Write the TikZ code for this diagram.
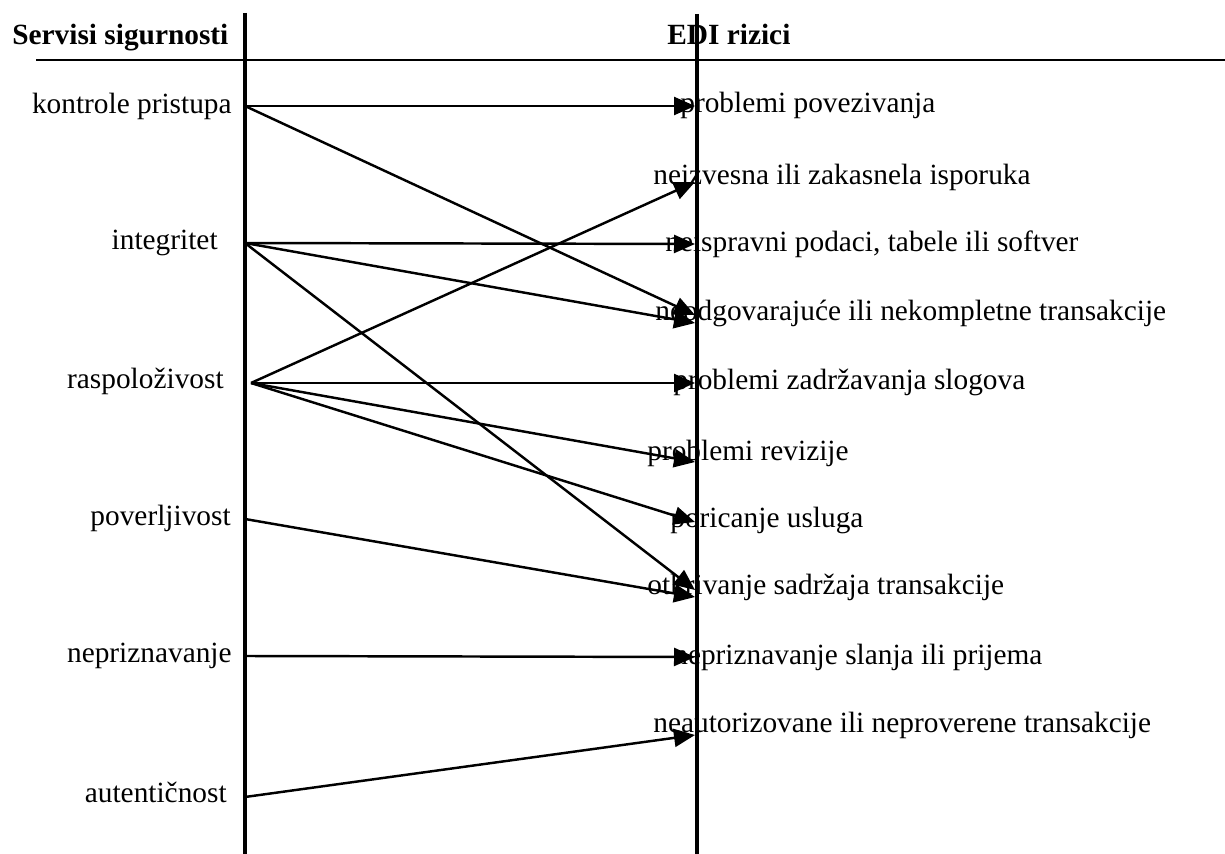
\documentclass[tikz,border=0pt]{standalone}
\usepackage{fontspec}
\setmainfont{Liberation Serif}
\usetikzlibrary{arrows.meta}
\begin{document}
\begin{tikzpicture}[x=0.02cm,y=-0.02cm,
  lbl/.style={inner sep=0pt, font=\fontsize{16.7}{20}\selectfont},
  hdr/.style={inner sep=0pt, font=\fontsize{16.7}{20}\selectfont\bfseries},
  rule/.style={line width=2.2pt},
  thinrule/.style={line width=1.5pt},
  link/.style={line width=1.4pt, -{Triangle[length=0.42cm,width=0.36cm]}}]
\useasboundingbox (0,0) rectangle (1225,854);

% column rules
\coordinate (lt) at (245,13);  \coordinate (lb) at (245,854);
\coordinate (rt) at (697,14);  \coordinate (rb) at (697,854);
\coordinate (hl) at (36,60);   \coordinate (hr) at (1225,60);
\draw[rule] (lt) -- (lb);
\draw[rule] (rt) -- (rb);
\draw[thinrule] (hl) -- (hr);

% headers
\node[hdr, anchor=base west] (h1) at (12,45) {Servisi sigurnosti};
\node[hdr, anchor=base west] (h2) at (667,45) {EDI rizici};

% security services
\node[lbl, anchor=base east] (s1) at (232,114) {kontrole pristupa};
\node[lbl, anchor=base east] (s2) at (218,250) {integritet};
\node[lbl, anchor=base east] (s3) at (224,389) {raspoloživost};
\node[lbl, anchor=base east] (s4) at (231,526) {poverljivost};
\node[lbl, anchor=base east] (s5) at (232,663) {nepriznavanje};
\node[lbl, anchor=base east] (s6) at (227,803) {autentičnost};

% EDI risks
\node[lbl, anchor=base west] (r1) at (680,113) {problemi povezivanja};
\node[lbl, anchor=base west] (r2) at (653,185) {neizvesna ili zakasnela isporuka};
\node[lbl, anchor=base west] (r3) at (665,252) {neispravni podaci, tabele ili softver};
\node[lbl, anchor=base west] (r4) at (655,321) {neodgovarajuće ili nekompletne transakcije};
\node[lbl, anchor=base west] (r5) at (673,390) {problemi zadržavanja slogova};
\node[lbl, anchor=base west] (r6) at (647,461) {problemi revizije};
\node[lbl, anchor=base west] (r7) at (670,528) {poricanje usluga};
\node[lbl, anchor=base west] (r8) at (647,595) {otkrivanje sadržaja transakcije};
\node[lbl, anchor=base west] (r9) at (673,665) {nepriznavanje slanja ili prijema};
\node[lbl, anchor=base west] (r10) at (653,733) {neautorizovane ili neproverene transakcije};

% connector ends on the left rule
\coordinate (a1) at (245,106);
\coordinate (a2) at (245,243);
\coordinate (a3) at (251,383);
\coordinate (a4) at (245,519);
\coordinate (a5) at (245,656);
\coordinate (a6) at (245,797);

% connector ends on the right rule
\coordinate (b1)  at (695,106);
\coordinate (b2)  at (695,182);
\coordinate (b3)  at (695,244);
\coordinate (b4a) at (695,315);
\coordinate (b4b) at (695,323);
\coordinate (b5)  at (695,383);
\coordinate (b6)  at (695,462);
\coordinate (b7)  at (695,522);
\coordinate (b8a) at (695,590);
\coordinate (b8b) at (695,597);
\coordinate (b9)  at (695,657);
\coordinate (b10) at (695,735);

% service -> risk connectors
\draw[link] (a1) -- (b1);
\draw[link] (a1) -- (b4a);
\draw[link] (a2) -- (b3);
\draw[link] (a2) -- (b4b);
\draw[link] (a2) -- (b8a);
\draw[link] (a3) -- (b2);
\draw[link] (a3) -- (b5);
\draw[link] (a3) -- (b6);
\draw[link] (a3) -- (b7);
\draw[link] (a4) -- (b8b);
\draw[link] (a5) -- (b9);
\draw[link] (a6) -- (b10);
\end{tikzpicture}
\end{document}
